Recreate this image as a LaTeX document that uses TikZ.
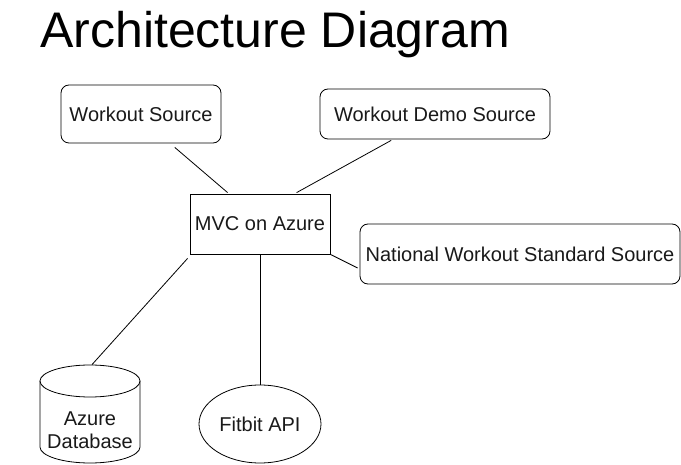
\documentclass[tikz,border=0pt]{standalone}
\usepackage{fontspec}
\setmainfont{Liberation Sans}
\usetikzlibrary{shapes, shapes.geometric, calc}

\begin{document}
\begin{tikzpicture}[x=1pt, y=-1pt, line width=0.8pt,
    srcbox/.style={draw, rounded corners=8pt, inner sep=0pt, text=black!90, font=\fontsize{20}{24}\selectfont},
    mvcbox/.style={draw, inner sep=0pt, text=black!90, font=\fontsize{20}{24}\selectfont},
    dbnode/.style={inner sep=0pt, text=black!90, font=\fontsize{20}{23}\selectfont},
    apinode/.style={draw, ellipse, inner sep=0pt, text=black!90, font=\fontsize{20}{24}\selectfont}]
  \useasboundingbox (0, 0) rectangle (681, 465);

  % Title
  \node[anchor=base west, inner sep=0pt, font=\fontsize{50}{60}\selectfont] (title) at (40, 48) {Architecture Diagram};

  % Sources
  \node[srcbox, minimum width=160pt, minimum height=58pt] (wsrc) at (141, 114) {Workout Source};
  \node[srcbox, minimum width=230pt, minimum height=50pt] (demo) at (435, 114) {Workout Demo Source};
  \node[srcbox, minimum width=320pt, minimum height=60pt] (natl) at (520, 254) {National Workout Standard Source};

  % Web app
  \node[mvcbox, minimum width=140pt, minimum height=60pt] (mvc) at (260, 224) {MVC on Azure};

  % Storage (cylinder drawn by hand)
  \node[dbnode, minimum width=100pt, minimum height=98pt] (db) at (90, 414)
    {\begin{tabular}{@{}c@{}}\rule{0pt}{52pt}Azure\\Database\end{tabular}};
  \draw (90, 381) ellipse [x radius=50, y radius=16]; % lid
  \draw (40, 381) -- (40, 447) arc [start angle=180, end angle=0, x radius=50, y radius=16] -- (140, 381); % body

  % API
  \node[apinode, minimum width=122pt, minimum height=78pt] (fit) at (260, 424) {Fitbit API};

  % Connectors
  \draw ($(wsrc.south west)!0.71!(wsrc.south east) + (0, 4)$) -- ($(mvc.north west)!0.27!(mvc.north east) + (0, -1)$);
  \draw ($(demo.south west)!0.31!(demo.south east) + (0, 1)$) -- ($(mvc.north west)!0.76!(mvc.north east) + (0, -1)$);
  \draw (mvc.south east) -- ($(natl.north west)!0.73!(natl.south west) + (-2, 0)$);
  \draw ($(mvc.south west) + (-2, 4)$) -- ($(db.north) + (2, 0)$);
  \draw (mvc.south) -- (fit.north);
\end{tikzpicture}
\end{document}
